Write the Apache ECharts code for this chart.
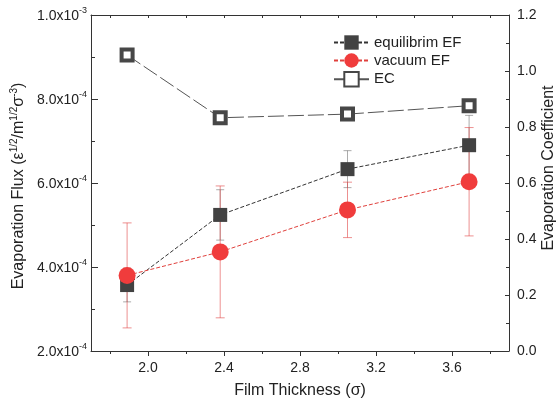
<!DOCTYPE html>
<html>
<head>
<meta charset="utf-8">
<script src="https://cdn.jsdelivr.net/npm/echarts@6/dist/echarts.min.js"></script>
<style>
  html, body { margin: 0; padding: 0; background: #fff; }
  #chart { width: 558px; height: 410px; }
</style>
</head>
<body>
<div id="chart"></div>
<script>
// Film thickness (sigma) of each simulated film
const thickness = [1.89, 2.38, 3.05, 3.69];
// Evaporation flux into equilibrium vapour and into vacuum, with their error bars
const equilibriumFlux = [3.57e-4, 5.24e-4, 6.33e-4, 6.90e-4];
const equilibriumErr = [0.40e-4, 0.60e-4, 0.44e-4, 0.71e-4];
const vacuumFlux = [3.80e-4, 4.36e-4, 5.36e-4, 6.03e-4];
const vacuumErr = [1.25e-4, 1.57e-4, 0.66e-4, 1.29e-4];
// Evaporation coefficient (right axis)
const evapCoeff = [1.057, 0.833, 0.846, 0.876];

// Tick positions on the thickness axis
const xLabelTicks = [2.0, 2.4, 2.8, 3.2, 3.6];
const xMinorTicks = [1.8, 2.2, 2.6, 3.0, 3.4, 3.8];
const xTopTicks = [1.8, 2.0, 2.2, 2.4, 2.6, 2.8, 3.0, 3.2, 3.4, 3.6, 3.8];

const seriesNames = ['equilibrim EF', 'vacuum EF', 'EC'];

const FONT = '"Liberation Sans", Arial, sans-serif';
const AXIS_COLOR = '#333';
const TEXT_COLOR = '#222';

function sciLabel(v) {
  const e = Math.floor(Math.log10(v) + 1e-9);
  const m = v / Math.pow(10, e);
  return '{b|' + m.toFixed(1) + 'x10}{s|' + e + '}';
}

function errorBars(name, values, errs, color, capHalf) {
  return {
    type: 'custom',
    name: name,
    xAxisIndex: 0,
    yAxisIndex: 0,
    z: 1,
    silent: true,
    data: thickness.map((x, i) => [x, values[i] - errs[i], values[i] + errs[i]]),
    encode: { x: 0, y: [1, 2] },
    renderItem: function (params, api) {
      const x = api.value(0);
      const lo = api.coord([x, api.value(1)]);
      const hi = api.coord([x, api.value(2)]);
      const style = { stroke: color, lineWidth: 1 };
      return {
        type: 'group',
        children: [
          { type: 'line', shape: { x1: lo[0], y1: lo[1], x2: hi[0], y2: hi[1] }, style: style },
          { type: 'line', shape: { x1: lo[0] - capHalf, y1: lo[1], x2: lo[0] + capHalf, y2: lo[1] }, style: style },
          { type: 'line', shape: { x1: hi[0] - capHalf, y1: hi[1], x2: hi[0] + capHalf, y2: hi[1] }, style: style }
        ]
      };
    }
  };
}

const xBase = { type: 'value', min: 1.7, max: 3.9, gridIndex: 0, splitLine: { show: false } };

const chart = echarts.init(document.getElementById('chart'), null, { renderer: 'canvas' });
chart.setOption({
  animation: false,
  backgroundColor: '#fff',
  textStyle: { fontFamily: FONT },
  grid: { left: 91, right: 49, top: 15, bottom: 59, containLabel: false },
  legend: {
    orient: 'vertical',
    left: 328,
    top: 30,
    itemWidth: 35,
    itemHeight: 18,
    itemGap: 3,
    data: seriesNames,
    textStyle: { fontSize: 15, color: TEXT_COLOR, fontFamily: FONT },
    selectedMode: false
  },
  xAxis: [
    Object.assign({}, xBase, {
      position: 'bottom',
      name: 'Film Thickness (σ)',
      nameLocation: 'middle',
      nameGap: 32,
      nameTextStyle: { fontSize: 16, color: TEXT_COLOR, fontFamily: FONT },
      axisLine: { show: true, lineStyle: { color: AXIS_COLOR, width: 1 } },
      axisTick: { show: true, inside: false, length: 5, customValues: xLabelTicks, lineStyle: { color: AXIS_COLOR } },
      axisLabel: { show: true, customValues: xLabelTicks, margin: 10, fontSize: 14, color: TEXT_COLOR, fontFamily: FONT,
        formatter: v => v.toFixed(1) }
    }),
    Object.assign({}, xBase, {
      position: 'bottom',
      axisLine: { show: false },
      axisTick: { show: true, inside: false, length: 3, customValues: xMinorTicks, lineStyle: { color: AXIS_COLOR } },
      axisLabel: { show: false }
    }),
    Object.assign({}, xBase, {
      position: 'top',
      axisLine: { show: true, lineStyle: { color: AXIS_COLOR, width: 1 } },
      axisTick: { show: true, inside: true, length: 3, customValues: xTopTicks, lineStyle: { color: AXIS_COLOR } },
      axisLabel: { show: false }
    })
  ],
  yAxis: [
    {
      type: 'value',
      position: 'left',
      min: 2e-4,
      max: 1e-3,
      interval: 2e-4,
      splitLine: { show: false },
      axisLine: { show: true, lineStyle: { color: AXIS_COLOR, width: 1 } },
      axisTick: { show: true, inside: true, length: 7, lineStyle: { color: AXIS_COLOR } },
      minorTick: { show: true, splitNumber: 2, length: 4, lineStyle: { color: AXIS_COLOR } },
      axisLabel: {
        margin: 4,
        formatter: sciLabel,
        rich: {
          b: { fontSize: 14, color: TEXT_COLOR, fontFamily: FONT, verticalAlign: 'bottom' },
          s: { fontSize: 9, color: TEXT_COLOR, fontFamily: FONT, verticalAlign: 'bottom', padding: [0, 0, 8, 0] }
        }
      }
    },
    {
      type: 'value',
      position: 'right',
      min: 0,
      max: 1.2,
      interval: 0.2,
      splitLine: { show: false },
      axisLine: { show: true, lineStyle: { color: AXIS_COLOR, width: 1 } },
      axisTick: { show: true, inside: true, length: 4, lineStyle: { color: AXIS_COLOR } },
      minorTick: { show: true, splitNumber: 2, length: 3, lineStyle: { color: AXIS_COLOR } },
      axisLabel: { margin: 8, fontSize: 14, color: TEXT_COLOR, fontFamily: FONT, formatter: v => v.toFixed(1) }
    }
  ],
  graphic: [
    {
      type: 'text',
      x: 18,
      y: 186,
      rotation: Math.PI / 2,
      style: {
        text: '{t|Evaporation Flux (ε}{s|1/2}{t|/m}{s|1/2}{t|σ}{s|-3}{t|)}',
        align: 'center',
        verticalAlign: 'middle',
        rich: {
          t: { fontSize: 16, fill: TEXT_COLOR, fontFamily: FONT, verticalAlign: 'bottom' },
          s: { fontSize: 10, fill: TEXT_COLOR, fontFamily: FONT, verticalAlign: 'bottom', padding: [0, 0, 8, 0] }
        }
      }
    },
    {
      type: 'text',
      x: 549,
      y: 168,
      rotation: Math.PI / 2,
      style: {
        text: 'Evaporation Coefficient',
        align: 'center',
        verticalAlign: 'middle',
        fontSize: 16,
        fontFamily: FONT,
        fill: TEXT_COLOR
      }
    }
  ],
  series: [
    errorBars('eqErr', equilibriumFlux, equilibriumErr, 'rgba(90,90,90,0.5)', 4),
    errorBars('vacErr', vacuumFlux, vacuumErr, 'rgba(225,70,70,0.6)', 4.5),
    {
      name: 'EC',
      type: 'line',
      xAxisIndex: 0,
      yAxisIndex: 1,
      data: thickness.map((x, i) => [x, evapCoeff[i]]),
      symbol: 'rect',
      symbolSize: 11,
      itemStyle: { color: '#fff', borderColor: '#474747', borderWidth: 4 },
      lineStyle: { color: '#555', width: 1, type: [16, 4] },
      z: 3
    },
    {
      name: 'equilibrim EF',
      type: 'line',
      xAxisIndex: 0,
      yAxisIndex: 0,
      data: thickness.map((x, i) => [x, equilibriumFlux[i]]),
      symbol: 'rect',
      symbolSize: 14,
      itemStyle: { color: '#424242' },
      lineStyle: { color: '#333', width: 1, type: [4, 2] },
      z: 4
    },
    {
      name: 'vacuum EF',
      type: 'line',
      xAxisIndex: 0,
      yAxisIndex: 0,
      data: thickness.map((x, i) => [x, vacuumFlux[i]]),
      symbol: 'circle',
      symbolSize: 17,
      itemStyle: { color: '#f03c3c' },
      lineStyle: { color: '#e0403c', width: 1, type: [4, 2] },
      z: 5
    }
  ]
});
</script>
</body>
</html>
